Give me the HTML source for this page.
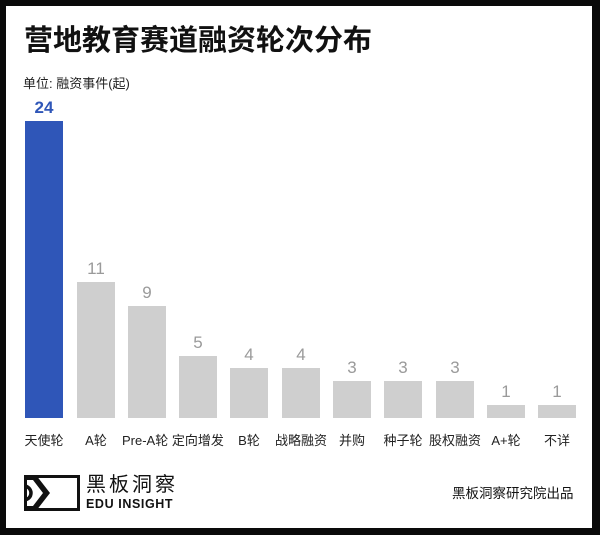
<!DOCTYPE html>
<html><head><meta charset="utf-8"><style>
html,body{margin:0;padding:0;}
body{width:600px;height:535px;background:#0a0a0a;position:relative;overflow:hidden;font-family:"Liberation Sans","Noto Sans CJK SC",sans-serif;}
.card{position:absolute;left:6px;top:6px;width:586px;height:522px;background:#fff;}
.a{position:absolute;white-space:nowrap;line-height:1;}
.bar{position:absolute;background:#cfcfcf;width:38px;}
.v{position:absolute;width:38px;text-align:center;font-size:17px;color:#9a9a9a;line-height:1;}
.l{position:absolute;width:60px;text-align:center;font-size:13px;color:#222;top:434px;line-height:1;}
</style></head><body>
<div class="card"></div>
<div class="a" style="left:24px;top:27px;font-size:29px;font-weight:bold;color:#111;">营地教育赛道融资轮次分布</div>
<div class="a" style="left:23px;top:77px;font-size:13px;color:#222;">单位: 融资事件(起)</div>

<div class="bar" style="left:25px;top:121px;height:297px;background:#2f56b8;"></div>
<div class="v" style="left:25px;top:99px;color:#2f56b8;font-weight:bold;">24</div>

<div class="bar" style="left:77px;top:282px;height:136px;"></div><div class="v" style="left:77px;top:260px;">11</div>
<div class="bar" style="left:128px;top:306px;height:112px;"></div><div class="v" style="left:128px;top:284px;">9</div>
<div class="bar" style="left:179px;top:356px;height:62px;"></div><div class="v" style="left:179px;top:334px;">5</div>
<div class="bar" style="left:230px;top:368px;height:50px;"></div><div class="v" style="left:230px;top:346px;">4</div>
<div class="bar" style="left:282px;top:368px;height:50px;"></div><div class="v" style="left:282px;top:346px;">4</div>
<div class="bar" style="left:333px;top:381px;height:37px;"></div><div class="v" style="left:333px;top:359px;">3</div>
<div class="bar" style="left:384px;top:381px;height:37px;"></div><div class="v" style="left:384px;top:359px;">3</div>
<div class="bar" style="left:436px;top:381px;height:37px;"></div><div class="v" style="left:436px;top:359px;">3</div>
<div class="bar" style="left:487px;top:405px;height:13px;"></div><div class="v" style="left:487px;top:383px;">1</div>
<div class="bar" style="left:538px;top:405px;height:13px;"></div><div class="v" style="left:538px;top:383px;">1</div>

<div class="l" style="left:14px;">天使轮</div>
<div class="l" style="left:66px;">A轮</div>
<div class="l" style="left:122px;width:110px;text-align:left;">Pre-A轮 定向增发</div>
<div class="l" style="left:219px;">B轮</div>
<div class="l" style="left:271px;">战略融资</div>
<div class="l" style="left:322px;">并购</div>
<div class="l" style="left:373px;">种子轮</div>
<div class="l" style="left:425px;">股权融资</div>
<div class="l" style="left:476px;">A+轮</div>
<div class="l" style="left:527px;">不详</div>

<svg class="a" style="left:24px;top:475px;" width="56" height="36" viewBox="0 0 56 36">
<rect x="1.5" y="1.5" width="53" height="33" fill="none" stroke="#111" stroke-width="3"/>
<polygon points="0,0 12,0 26,18 12,36 0,36 0,31 9,31 19,18 9,5 0,5" fill="#111"/>
<path d="M0,11 A7,7 0 0 1 0,25" fill="none" stroke="#111" stroke-width="3.5"/>
</svg>
<div class="a" style="left:86px;top:475px;font-size:20px;color:#111;letter-spacing:3px;">黑板洞察</div>
<div class="a" style="left:86px;top:498px;font-size:12.5px;font-weight:bold;color:#111;letter-spacing:0.6px;">EDU INSIGHT</div>
<div class="a" style="left:452px;top:487px;font-size:13.5px;color:#111;">黑板洞察研究院出品</div>
</body></html>
